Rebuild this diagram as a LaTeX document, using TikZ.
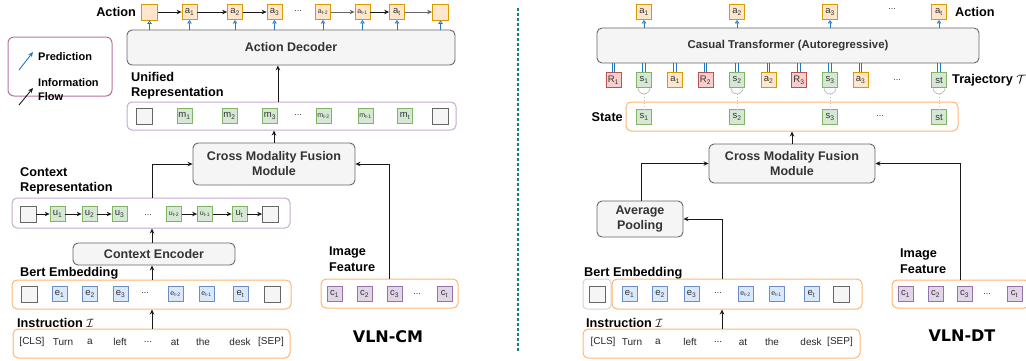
\documentclass[tikz,border=0pt]{standalone}
\usepackage{fontspec}
\setmainfont{Liberation Sans}
\newfontfamily\vlnfont{DejaVu Sans}
\usetikzlibrary{arrows.meta}
\definecolor{orF}{HTML}{FFE6CC}
\definecolor{orD}{HTML}{D79B00}
\definecolor{grF}{HTML}{D5E8D4}
\definecolor{grD}{HTML}{82B366}
\definecolor{blF}{HTML}{DAE8FC}
\definecolor{blD}{HTML}{6C8EBF}
\definecolor{puF}{HTML}{E1D5E7}
\definecolor{puD}{HTML}{9673A6}
\definecolor{reF}{HTML}{F8CECC}
\definecolor{reD}{HTML}{B85450}
\definecolor{gyF}{HTML}{F5F5F5}
\definecolor{gyD}{HTML}{666666}
\definecolor{contO}{HTML}{FFB570}
\definecolor{contP}{HTML}{C3ABD0}
\definecolor{legD}{HTML}{B5739D}
\definecolor{predC}{HTML}{1F78C8}
\definecolor{dashT}{HTML}{0E8088}
\definecolor{txtG}{HTML}{333333}
\newcommand\fsz[1]{\fontsize{#1}{#1}\selectfont}
\newcommand\lb[2]{#1\textsubscript{#2}}
\newcommand\lbs[2]{{\fsz{7}#1\textsubscript{#2}}}
\tikzset{
  sq/.style={draw, line width=0.8pt, minimum width=15pt, minimum height=15pt, inner sep=0pt, font=\fsz{9.5}, text=black!80},
  ob/.style={sq, fill=orF, draw=orD},
  gb/.style={sq, fill=grF, draw=grD},
  bb/.style={sq, fill=blF, draw=blD},
  pb/.style={sq, fill=puF, draw=puD},
  rb/.style={sq, fill=reF, draw=reD},
  eb/.style={sq, fill=gyF, draw=gyD, minimum width=16pt, minimum height=16pt},
  big/.style={draw=gyD, fill=gyF, rounded corners=5pt, line width=0.9pt, inner sep=0pt, font=\bfseries\fsz{12.5}, text=txtG, align=center},
  contOr/.style={draw=contO, rounded corners=5pt, line width=1pt, inner sep=0pt},
  contPu/.style={draw=contP, rounded corners=5pt, line width=1pt, inner sep=0pt},
  lbl/.style={font=\bfseries\fsz{12.7}, inner sep=0pt, text=black},
  word/.style={font=\fsz{10}, inner sep=0pt, text=black!85},
  dots/.style={font=\fsz{9}, inner sep=0pt, text=black!80},
  arr/.style={-{Stealth[length=5pt,width=4.5pt]}, line width=0.8pt, draw=black!90},
  pred/.style={draw=predC, line width=0.8pt, -{Triangle[open,length=3.5pt,width=4.5pt]}},
  dbl/.style={draw=predC, line width=0.8pt},
  cup/.style={draw=gray!60, line width=0.6pt},
  dline/.style={draw=gray!50, line width=0.5pt, dash pattern=on 1.5pt off 1.5pt},
  vln/.style={font=\vlnfont\bfseries\fsz{16}, inner sep=0pt}
}
\begin{document}
\begin{tikzpicture}[x=1pt,y=-1pt]
\useasboundingbox (0,0) rectangle (1026,360);

% ---------------- legend ----------------
\node[draw=legD, rounded corners=6pt, line width=1pt, minimum width=104pt, minimum height=59pt, inner sep=0pt] (leg) at (60,66.5) {};
\coordinate (lp1) at (19,70); \coordinate (lp2) at (33,52);
\coordinate (lf1) at (19,105); \coordinate (lf2) at (33,88);
\draw[predC, line width=0.9pt, -{Stealth[length=5pt,width=4.5pt]}] (lp1) -- (lp2);
\draw[arr, line width=0.9pt] (lf1) -- (lf2);
\node[font=\bfseries\fsz{11}, inner sep=0pt, anchor=west] (legp) at (38,57) {Prediction};
\node[font=\bfseries\fsz{11}, inner sep=0pt, anchor=north west, align=left] (legf) at (38,78) {Information\\[3pt]Flow};

% ---------------- left: action row ----------------
\node[lbl, anchor=east] (actL) at (136,12) {Action};
\node[ob, minimum width=16pt, minimum height=16pt] (A0) at (149.5,12) {};
\node[ob] (la1) at (189.5,12) {\lb{a}{1}};
\node[ob] (la2) at (235,12) {\lb{a}{2}};
\node[ob] (la3) at (274.5,12) {\lb{a}{3}};
\node[dots] (lad) at (298,11) {...};
\node[ob] (la4) at (323,12) {\lbs{a}{t-2}};
\node[ob] (la5) at (362.5,12) {\lbs{a}{t-1}};
\node[ob] (la6) at (397,12) {\lb{a}{t}};
\node[ob, minimum width=16pt, minimum height=16pt] (A9) at (440.5,12) {};
\draw[arr] (A0) -- (la1);
\draw[arr] (la1) -- (la2);
\draw[arr] (la2) -- (la3);
\draw[arr, draw=gyD] (la4) -- (la5);
\draw[arr] (la5) -- (la6);
\draw[arr, draw=gyD] (la6) -- (A9);

\node[big, minimum width=328pt, minimum height=35pt] (dec) at (291,47.5) {Action Decoder};
\foreach \n in {A0,la1,la2,la3,la4,la5,la6,A9}{
  \draw[pred] (dec.north -| \n) -- (\n.south);
}

% unified representation
\node[lbl, anchor=north west, align=left] (uniL) at (131,72) {Unified\\[2.5pt]Representation};
\node[contPu, minimum width=329pt, minimum height=28pt] (uni) at (291.5,116) {};
\node[eb] (m0) at (144,116) {};
\node[gb] (m1) at (184.5,116) {\lb{m}{1}};
\node[gb] (m2) at (229.5,116) {\lb{m}{2}};
\node[gb] (m3) at (270,116) {\lb{m}{3}};
\node[dots] (md) at (298,115) {...};
\node[gb] (m4) at (323.5,116) {\lbs{m}{t-2}};
\node[gb] (m5) at (365.5,116) {\lbs{m}{t-1}};
\node[gb] (m6) at (405,116) {\lb{m}{t}};
\node[eb] (m9) at (440.5,116) {};
\draw[arr] (uni.north -| m3.east) -- (dec.south -| m3.east);

% fusion left
\node[big, minimum width=162pt, minimum height=42pt] (fusL) at (274,164) {Cross Modality Fusion\\[2.5pt]Module};
\draw[arr] (fusL.north) -- (uni.south -| fusL.north);

% context representation
\node[lbl, anchor=north west, align=left] (ctxL) at (20,167) {Context\\[2.5pt]Representation};
\node[contPu, minimum width=278pt, minimum height=30pt] (ctx) at (151,213) {};
\node[eb] (u0) at (28,214) {};
\node[gb] (u1) at (57.5,214) {\lb{u}{1}};
\node[gb] (u2) at (89.5,214) {\lb{u}{2}};
\node[gb] (u3) at (119.5,214) {\lb{u}{3}};
\node[dots] (ud) at (148,215) {...};
\node[gb] (u4) at (174,214) {\lbs{u}{t-2}};
\node[gb] (u5) at (205,214) {\lbs{u}{t-1}};
\node[gb] (u6) at (239.5,214) {\lb{u}{t}};
\node[eb] (u9) at (270.5,214) {};
\draw[arr] (u0) -- (u1);
\draw[arr] (u1) -- (u2);
\draw[arr] (u2) -- (u3);
\draw[arr] (u4) -- (u5);
\draw[arr] (u5) -- (u6);
\draw[arr] (u6) -- (u9);
\coordinate (cx) at (152,0);
\draw[arr] (ctx.north -| cx) |- (fusL.west);

% context encoder
\node[big, minimum width=162pt, minimum height=22pt] (enc) at (154,254) {Context Encoder};
\draw[arr] (enc.north -| cx) -- (ctx.south -| cx);

% bert embedding left
\node[lbl, anchor=west] (bertLL) at (20,273) {Bert Embedding};
\node[contOr, minimum width=279pt, minimum height=29pt] (bertL) at (151.5,294.5) {};
\node[eb] (e0) at (29.5,294) {};
\node[bb] (e1) at (59.5,294) {\lb{e}{1}};
\node[bb] (e2) at (90,294) {\lb{e}{2}};
\node[bb] (e3) at (120.5,294) {\lb{e}{3}};
\node[dots] (ed) at (145,293) {...};
\node[bb] (e4) at (175.5,294) {\lbs{e}{t-2}};
\node[bb] (e5) at (206.5,294) {\lbs{e}{t-1}};
\node[bb] (e6) at (240.5,294) {\lb{e}{t}};
\node[eb] (e9) at (272.5,294) {};
\draw[arr] (bertL.north -| cx) -- (enc.south -| cx);

% instruction left
\node[lbl, anchor=west] (instLL) at (17,323) {Instruction $\mathcal{I}$};
\node[contOr, minimum width=277pt, minimum height=29pt] (instL) at (151.5,343.5) {};
\foreach \x/\w/\nm in {32/{[CLS]}/w1,63/Turn/w2,90/a/w3,120/left/w4,148/{...}/w5,175/at/w6,203/the/w7,240/desk/w8,271/{[SEP]}/w9}{
  \node[word] (l\nm) at (\x,342) {\w};
}
\draw[arr] (instL.north -| cx) -- (bertL.south -| cx);

% image feature left
\node[lbl, anchor=north west, align=left] (imgLL) at (329,247) {Image\\[2.5pt]Feature};
\node[contOr, minimum width=137pt, minimum height=29pt] (imgL) at (389.5,293.5) {};
\node[pb] (c1) at (334.5,294) {\lb{c}{1}};
\node[pb] (c2) at (364.5,294) {\lb{c}{2}};
\node[pb] (c3) at (394.5,294) {\lb{c}{3}};
\node[dots] (cd) at (417,294) {...};
\node[pb] (c4) at (444.5,294) {\lb{c}{t}};
\coordinate (ix) at (389,0);
\draw[arr] (imgL.north -| ix) |- (fusL.east);

\node[vln] (vlncm) at (388,337) {VLN-CM};

% divider
\draw[dashT, line width=1.2pt, dash pattern=on 3pt off 2pt] (518,8) -- (518,352);

% ---------------- right panel ----------------
\node[ob] (ra1) at (644,12) {\lb{a}{1}};
\node[ob] (ra2) at (737,12) {\lb{a}{2}};
\node[ob] (ra3) at (830,12) {\lb{a}{3}};
\node[dots] (rad) at (892,9) {...};
\node[ob] (ra4) at (939,12) {\lb{a}{t}};
\node[lbl, anchor=west] (actR) at (955,12) {Action};

\node[big, font=\bfseries\fsz{11.4}, minimum width=382pt, minimum height=35pt] (ct) at (788,45.5) {Casual Transformer (Autoregressive)};
\foreach \n in {ra1,ra2,ra3,ra4}{
  \draw[pred] (ct.north -| \n) -- (\n.south);
}

% trajectory
\node[rb] (tR1) at (613.5,80) {\lb{R}{1}};
\node[gb] (ts1) at (644,80) {\lb{s}{1}};
\node[ob] (ta1) at (675,80) {\lb{a}{1}};
\node[rb] (tR2) at (705.5,80) {\lb{R}{2}};
\node[gb] (ts2) at (737,80) {\lb{s}{2}};
\node[ob] (ta2) at (768.5,80) {\lb{a}{2}};
\node[rb] (tR3) at (799,80) {\lb{R}{3}};
\node[gb] (ts3) at (830,80) {\lb{s}{3}};
\node[ob] (ta3) at (860.5,80) {\lb{a}{3}};
\node[dots] (td) at (897,80) {...};
\node[gb] (ts4) at (939,80) {st};
\node[lbl, anchor=west] (trajL) at (952,80) {Trajectory $\mathcal{T}$};
\foreach \n in {tR1,ts1,ta1,tR2,ts2,ta2,tR3,ts3,ta3,ts4}{
  \draw[dbl] ([xshift=-1.3pt]\n.north) -- ([xshift=-1.3pt]ct.south -| \n);
  \draw[dbl] ([xshift=1.3pt]\n.north) -- ([xshift=1.3pt]ct.south -| \n);
}

% state
\node[lbl, anchor=east] (stateL) at (623,117) {State};
\node[contOr, minimum width=332pt, minimum height=29pt] (state) at (792,116.5) {};
\node[gb] (ss1) at (644,117) {\lb{s}{1}};
\node[gb] (ss2) at (737,117) {\lb{s}{2}};
\node[gb] (ss3) at (830,117) {\lb{s}{3}};
\node[dots] (sd) at (880,116) {...};
\node[gb] (ss4) at (939,117) {st};
\foreach \i in {1,2,3,4}{
  \draw[cup] ([xshift=-6pt]ts\i.south) arc[start angle=180,end angle=0,radius=6];
  \draw[dline] ([yshift=-6pt]ts\i.south) -- (ss\i.north);
}

% fusion right
\node[big, minimum width=166pt, minimum height=39pt] (fusR) at (792,163.5) {Cross Modality Fusion\\[2.5pt]Module};
\draw[arr] (fusR.north) -- (state.south);

% average pooling
\node[big, minimum width=86pt, minimum height=36pt] (avg) at (640,219) {Average\\[2.5pt]Pooling};
\coordinate (px) at (641,0);
\draw[arr] (avg.north -| px) |- (fusR.west);

% bert right
\node[lbl, anchor=west] (bertRL) at (584,273) {Bert Embedding};
\node[draw=gray!35, rounded corners=4pt, line width=1pt, minimum width=28pt, minimum height=30pt, inner sep=0pt] (clsbox) at (597,294) {};
\node[eb] (f0) at (597,294) {};
\node[contOr, minimum width=250pt, minimum height=30pt] (bertR) at (737,294) {};
\node[bb] (f1) at (629.5,294) {\lb{e}{1}};
\node[bb] (f2) at (660,294) {\lb{e}{2}};
\node[bb] (f3) at (691.5,294) {\lb{e}{3}};
\node[dots] (fd) at (718,293) {...};
\node[bb] (f4) at (745.5,294) {\lbs{e}{t-2}};
\node[bb] (f5) at (776.5,294) {\lbs{e}{t-1}};
\node[bb] (f6) at (811.5,294) {\lb{e}{t}};
\node[eb] (f9) at (841.5,294) {};
\coordinate (bx) at (722,0);
\draw[arr] (bertR.north -| bx) |- (avg.east);

% instruction right
\node[lbl, anchor=west] (instRL) at (586,323) {Instruction $\mathcal{I}$};
\node[contOr, minimum width=277pt, minimum height=29pt] (instR) at (721.5,343.5) {};
\foreach \x/\w/\nm in {603/{[CLS]}/w1,632/Turn/w2,658/a/w3,690/left/w4,718/{...}/w5,743/at/w6,772/the/w7,811/desk/w8,840/{[SEP]}/w9}{
  \node[word] (r\nm) at (\x,342) {\w};
}
\draw[arr] (instR.north -| bx) -- (bertR.south -| bx);

% image right
\node[lbl, anchor=north west, align=left] (imgRL) at (900,249) {Image\\[2.5pt]Feature};
\node[contOr, minimum width=138pt, minimum height=28pt] (imgR) at (961,294) {};
\node[pb] (g1) at (905.5,294) {\lb{c}{1}};
\node[pb] (g2) at (935.5,294) {\lb{c}{2}};
\node[pb] (g3) at (964.5,294) {\lb{c}{3}};
\node[dots] (gd) at (987,294) {...};
\node[pb] (g4) at (1014.5,294) {\lb{c}{t}};
\coordinate (jx) at (960,0);
\draw[arr] (imgR.north -| jx) |- (fusR.east);

\node[vln] (vlndt) at (962,336) {VLN-DT};
\end{tikzpicture}
\end{document}
